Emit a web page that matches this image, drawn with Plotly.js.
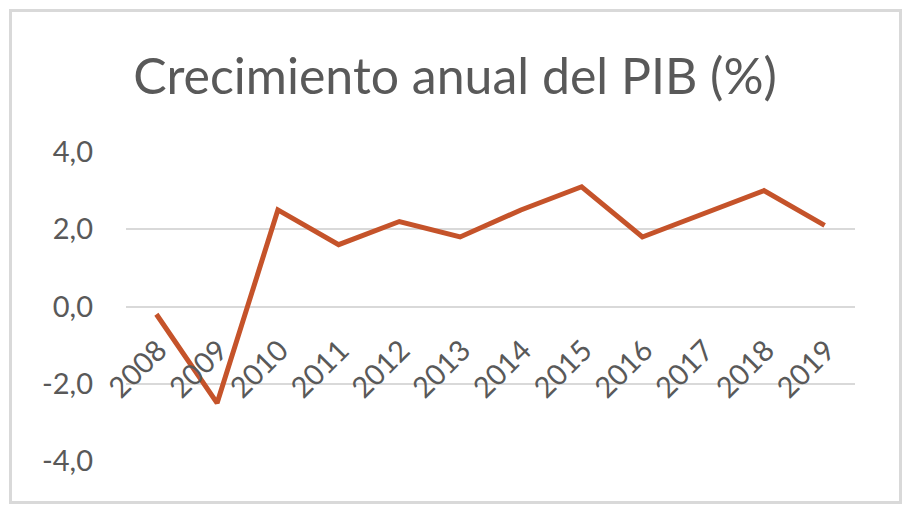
<!DOCTYPE html>
<html>
<head>
<meta charset="utf-8">
<script src="https://cdn.plot.ly/plotly-3.0.1.min.js"></script>
<style>
  html, body { margin: 0; padding: 0; background: #ffffff; }
  #wrap { position: relative; width: 910px; height: 512px; }
  #chart { position: absolute; left: 0; top: 0; width: 910px; height: 512px; }
  #frame { position: absolute; left: 9px; top: 9px; width: 887px; height: 489px;
           border: 3px solid #D9D9D9; pointer-events: none; }
</style>
</head>
<body>
<div id="wrap">
  <div id="chart"></div>
  <div id="frame"></div>
</div>
<script>
// Data
const years = ['2008','2009','2010','2011','2012','2013','2014','2015','2016','2017','2018','2019'];
const growth = [-0.2, -2.5, 2.5, 1.6, 2.2, 1.8, 2.5, 3.1, 1.8, 2.4, 3.0, 2.1];
const yTickVals = [-4, -2, 0, 2, 4];
const yTickText = ['-4,0', '-2,0', '0,0', '2,0', '4,0'];
const chartTitle = 'Crecimiento anual del PIB (%)';

const FONT = 'Lato, "Open Sans", sans-serif';
const GREY = '#595959';

const trace = {
  type: 'scatter',
  mode: 'lines',
  x: years,
  y: growth,
  line: { color: '#C5532A', width: 5 },
  hoverinfo: 'skip'
};

const layout = {
  width: 910,
  height: 512,
  paper_bgcolor: 'rgba(0,0,0,0)',
  plot_bgcolor: 'rgba(0,0,0,0)',
  margin: { l: 126, r: 55, t: 152, b: 51 },
  showlegend: false,
  font: { family: FONT, color: GREY },
  title: {
    text: chartTitle,
    font: { family: FONT, size: 50, color: GREY },
    xref: 'container', x: 0.5, xanchor: 'center',
    yref: 'container', y: 1 - 76 / 512, yanchor: 'middle'
  },
  xaxis: {
    type: 'category',
    range: [-0.5, years.length - 0.5],
    anchor: 'free',
    position: 0.5,
    showgrid: false,
    showline: false,
    zeroline: false,
    ticks: '',
    tickangle: -45,
    ticklabelstandoff: 20,
    ticklabelshift: 2,
    tickfont: { family: FONT, size: 29, color: GREY },
    fixedrange: true
  },
  yaxis: {
    range: [-4, 4],
    tickvals: yTickVals,
    ticktext: yTickText,
    showgrid: true,
    gridcolor: '#D9D9D9',
    gridwidth: 2,
    zeroline: false,
    showline: false,
    ticks: '',
    ticklabelstandoff: 32,
    tickfont: { family: FONT, size: 29, color: GREY },
    fixedrange: true
  }
};

Plotly.newPlot('chart', [trace], layout, { displayModeBar: false, staticPlot: true });
</script>
</body>
</html>
